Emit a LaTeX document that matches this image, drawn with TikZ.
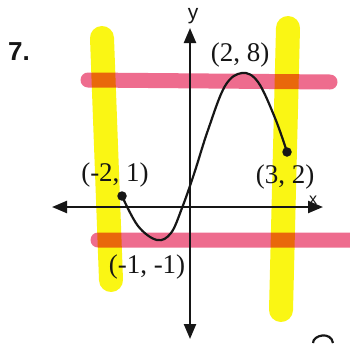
\documentclass[tikz,border=0pt]{standalone}
\usepackage{fontspec}
\setmainfont{Liberation Serif}
\newfontfamily\probfont{Liberation Sans}
\usetikzlibrary{arrows.meta}
\definecolor{hlyellow}{RGB}{250,246,20}
\definecolor{hlpink}{RGB}{238,108,142}
\definecolor{ink}{RGB}{22,22,22}
\tikzset{
	axisline/.style={{Triangle[length=15pt,width=12pt]}-{Triangle[length=15pt,width=12pt]},line width=2.3pt,draw=ink},
	yellowband/.style={draw=hlyellow,line width=24pt,line cap=round},
	pinkband/.style={draw=hlpink,line width=15pt,line cap=round},
	graphline/.style={draw=ink,line width=2.2pt},
	pointdot/.style={circle,fill=ink,inner sep=0pt,minimum size=9.5pt},
	coordlabel/.style={text=ink,font=\fontsize{27}{29}\selectfont,inner sep=0pt},
}

\begin{document}
\begin{tikzpicture}[x=1pt,y=-1pt]
	\useasboundingbox (0,0) rectangle (350,343);
	\fill[white] (0,0) rectangle (350,343);
	
	% highlighter strokes
	\begin{scope}[blend group=multiply]
		\draw[pinkband] (88,80) -- (330,82);
		\draw[pinkband] (98,240) -- (352,240);
		\draw[yellowband] (102,38) -- (111,280);
		\draw[yellowband] (288,28) -- (281,310);
	\end{scope}
	
	\coordinate (xleft) at (52,207);
	\coordinate (xright) at (323,207);
	\coordinate (ytop) at (190,28);
	\coordinate (ybottom) at (190,339);
	\draw[axisline] (xleft) -- (xright);
	\draw[axisline] (ybottom) -- (ytop);
	\node[text=ink,font=\probfont\fontsize{21}{22}\selectfont,inner sep=0pt] (ylab) at (193,16) {y};
	\node[text=ink,font=\probfont\fontsize{16}{17}\selectfont,inner sep=0pt] (xlab) at (313,200) {x};
	
	\node[text=ink,font=\probfont\bfseries\fontsize{26}{28}\selectfont,inner sep=0pt] (num) at (19,52) {7.};
	
	\node[pointdot] (pa) at (122,196) {};
	\node[pointdot] (pd) at (287,152) {};
	\draw[graphline] plot[smooth,tension=0.6] coordinates {(122,196) (138,226) (157,240) (171,233) (182,208) (194,174) (208,130) (225,86) (242,73) (258,82) (275,118) (287,152)};
	
	\node[coordlabel] (la) at (115,175) {(-2, 1)};
	\node[coordlabel] (lb) at (147,267) {(-1, -1)};
	\node[coordlabel] (lc) at (240,55) {(2, 8)};
	\node[coordlabel] (ld) at (285,177) {(3, 2)};
	
	% partial mark at the lower edge
	\draw[graphline] (313,343) .. controls (313,335) and (331,331) .. (333,343);
\end{tikzpicture}
\end{document}
